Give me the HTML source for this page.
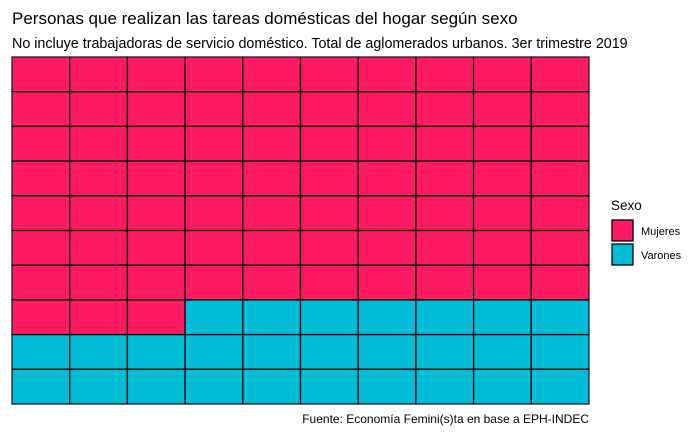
<!DOCTYPE html>
<html><head><style>body{margin:0;background:#fff}</style></head><body>
<svg width="699" height="439" xmlns="http://www.w3.org/2000/svg" font-family="Liberation Sans, sans-serif">
<rect width="699" height="439" fill="#fff"/>
<text x="12" y="24" font-size="17" fill="#000">Personas que realizan las tareas domésticas del hogar según sexo</text>
<text x="12" y="48" font-size="14.3" fill="#000">No incluye trabajadoras de servicio doméstico. Total de aglomerados urbanos. 3er trimestre 2019</text>
<g stroke="#000" stroke-width="1.3" id="g"></g>
<rect x="12" y="57" width="577" height="347" fill="none" stroke="#444" stroke-width="0.6"/>
<text x="611" y="210" font-size="13.5">Sexo</text>
<rect x="612" y="220" width="21" height="21" fill="#FF1B63" stroke="#000" stroke-width="1.3"/>
<rect x="612" y="244" width="21" height="21" fill="#00BCD6" stroke="#000" stroke-width="1.3"/>
<text x="641" y="235" font-size="11">Mujeres</text>
<text x="641" y="259" font-size="11">Varones</text>
<text x="589" y="423" font-size="12" text-anchor="end">Fuente: Economía Femini(s)ta en base a EPH-INDEC</text>
</svg>
<script>
var g=document.getElementById('g'),s='';
var w=57.7,h=34.7;
for(var r=0;r<10;r++)for(var c=0;c<10;c++){
var pink=r<7||(r==7&&c<3);
s+='<rect x="'+(12+c*w)+'" y="'+(57+r*h)+'" width="'+w+'" height="'+h+'" fill="'+(pink?'#FF1B63':'#00BCD6')+'"/>';}
g.innerHTML=s;
</script>
</body></html>
